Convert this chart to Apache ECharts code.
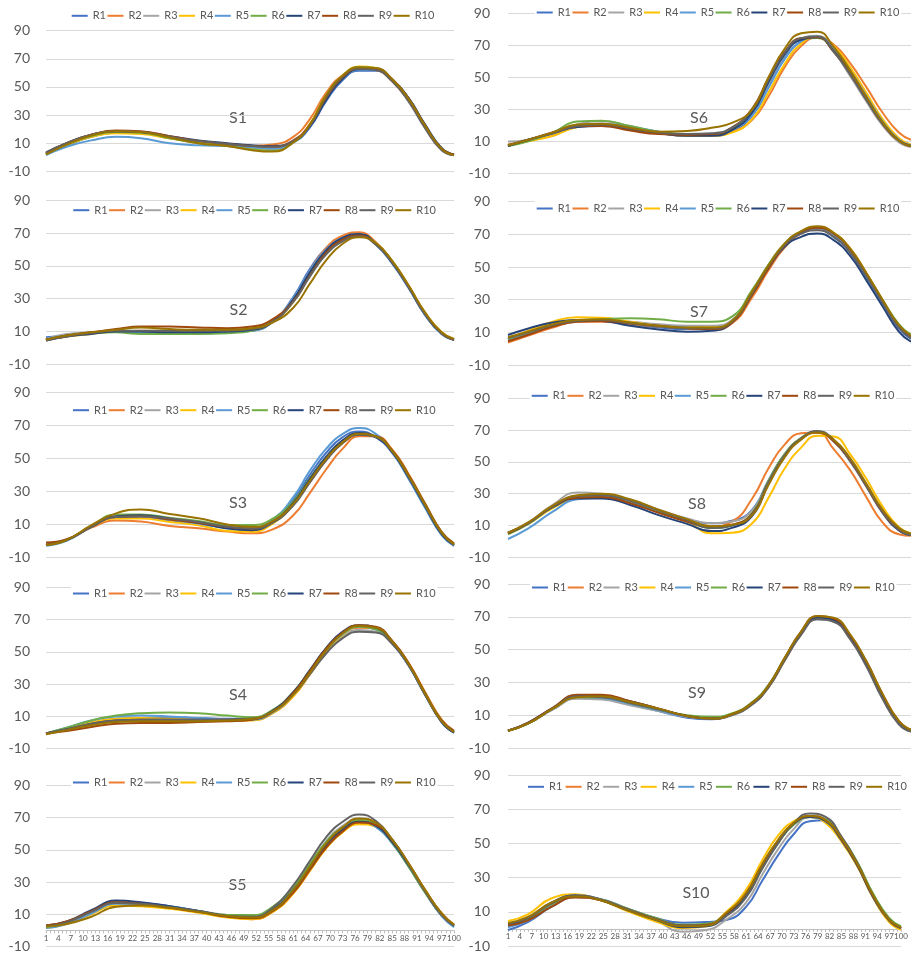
<!DOCTYPE html>
<html>
<head>
<meta charset="utf-8">
<script src="https://cdn.jsdelivr.net/npm/echarts@6/dist/echarts.min.js"></script>
<style>
  html, body { margin: 0; padding: 0; background: #fff; }
  #chart { width: 911px; height: 954px; }
</style>
</head>
<body>
<div id="chart"></div>
<script>
// Categories 1..100 along the horizontal axis
const categories = [];
for (let i = 1; i <= 100; i++) categories.push(String(i));

// Category positions at which each curve was sampled
const sampleAt = [1, 6, 12, 18, 24, 31, 38, 45, 51, 56, 61, 65, 69, 73, 77, 81, 85, 89, 93, 97, 100];

const seriesNames = ['R1', 'R2', 'R3', 'R4', 'R5', 'R6', 'R7', 'R8', 'R9', 'R10'];
const panelNames = ['S1', 'S2', 'S3', 'S4', 'S5', 'S6', 'S7', 'S8', 'S9', 'S10'];
const yTicks = [-10, 10, 30, 50, 70, 90];

// One row per run (R1..R10), values at the sampleAt categories
const S1 = [
  [2, 8.5, 14.5, 17.5, 17, 14, 11, 9, 7.5, 6.5, 10.5, 21, 40, 55, 61.5, 61.5, 55, 42, 23, 6.5, 1.5],
  [2.5, 9, 15, 17.5, 17, 13.5, 10.5, 8.5, 8, 9, 14.5, 27, 46, 58.5, 63, 62, 54, 40.5, 21.5, 6, 2],
  [2, 9, 15, 18, 17.5, 14, 11, 9, 7, 6.5, 11.5, 23, 43, 57, 63, 62.5, 55, 41, 22, 5.5, 1.5],
  [2, 8.5, 14.5, 17, 16.5, 13.5, 10.5, 8.5, 6.5, 5.5, 11, 23.5, 44, 58, 64.5, 63.5, 55.5, 41.5, 22, 6, 1.5],
  [1.5, 7.5, 12, 14.5, 13.5, 10, 8.5, 8, 7, 6, 11, 22.5, 42, 56, 62, 62, 55, 41.5, 23, 6.5, 2],
  [2, 9, 15, 18, 17.5, 13.5, 10, 8, 5.5, 4.5, 10.5, 23, 44, 58, 64, 63.5, 55.5, 41, 22, 6, 1.5],
  [3.5, 10, 16, 18.5, 18, 15, 12, 10, 8.5, 8, 11.5, 22, 41, 56, 62.5, 62.5, 55.5, 42, 23, 6.5, 2],
  [3, 10, 16, 19, 18.5, 15, 11.5, 9.5, 8, 7.5, 12, 23, 42.5, 57, 63, 63, 55.5, 41.5, 22.5, 6, 2],
  [3, 10, 16, 18.5, 18, 14.5, 11.5, 9.5, 8, 7.5, 11.5, 22.5, 43, 57.5, 63, 62, 54, 39.5, 20.5, 5, 1.5],
  [2, 9, 15.5, 18.5, 18, 14, 10, 8, 5, 4, 10.5, 23, 44, 58, 64, 63.5, 55.5, 41.5, 22.5, 6, 1.5]
];
const S2 = [
  [6.5, 7.5, 9, 10.5, 10, 9.5, 9.5, 9.5, 10.5, 16, 31, 48, 61, 67.5, 69, 63, 51.5, 36.5, 20, 8.5, 5],
  [5, 7, 9, 10.5, 10, 10, 10, 10.5, 12, 17, 30, 47, 61, 68.5, 70.5, 64.5, 52.5, 37, 20.5, 9, 5],
  [5.5, 8.5, 9.5, 10, 10, 10.5, 11, 11, 12, 16.5, 28.5, 44.5, 58, 66, 69, 63.5, 52, 37, 20.5, 9, 5],
  [5, 7, 8.5, 10, 10.5, 10.5, 10.5, 10.5, 11.5, 16, 28, 44, 58, 66, 69, 64, 53, 38, 21.5, 9.5, 5.5],
  [5.5, 7.5, 9, 10, 9.5, 9, 9, 9.5, 10.5, 16, 30.5, 47, 60, 67, 69, 63, 51.5, 36.5, 20, 8.5, 5],
  [5, 7.5, 9, 9.5, 8.5, 8.5, 8.5, 9, 10.5, 16, 29, 45, 58.5, 66.5, 69, 64, 53, 37.5, 21, 9, 5],
  [4.5, 7, 8.5, 10, 10, 9.5, 9.5, 10, 11, 16, 29.5, 46, 59.5, 67, 69.5, 63.5, 52, 37, 20.5, 9, 5],
  [5, 7.5, 9.5, 11.5, 13, 13, 12.5, 12, 13, 17.5, 28.5, 44, 58, 66, 68.5, 63.5, 52.5, 37.5, 21, 9, 5],
  [4.5, 7, 9, 10.5, 10.5, 10.5, 10.5, 10.5, 11.5, 16, 28, 43.5, 57, 65, 68, 63, 52, 37, 20.5, 9, 5],
  [5, 7.5, 9.5, 11, 12.5, 11.5, 11, 11, 12, 15.5, 24.5, 39, 53.5, 63.5, 67.5, 64, 53, 38, 21.5, 9.5, 5.5]
];
const S3 = [
  [-2.5, 0.5, 8.5, 14.5, 14.5, 12.5, 10.5, 8, 7.5, 12.5, 25, 40, 53.5, 63, 66.5, 63, 53.5, 38, 20.5, 4, -3],
  [-2, 0.5, 8, 12.3, 11.7, 9, 7.6, 5.6, 4.6, 7, 15.5, 29, 43.5, 56, 63.5, 63.5, 55.5, 40.5, 22.5, 5, -2],
  [-2.5, 0.5, 8.5, 14.5, 15, 13, 11, 8.5, 8, 12.5, 23.5, 37.5, 51, 61, 65.5, 63.5, 54.5, 39, 21.5, 4.5, -2.5],
  [-2.5, 0.5, 8.5, 13.5, 13.5, 11.5, 9.5, 6, 5.5, 10.5, 22, 36, 49.5, 60, 65, 63.5, 55, 39.5, 22, 5, -2],
  [-3, 0, 8.5, 14.5, 15, 13, 10.5, 8, 7.5, 13, 26.5, 42.5, 56, 65, 68.5, 65, 54, 37.5, 20, 3.5, -3],
  [-2.5, 0.5, 9, 16, 16, 14, 12, 9.5, 9.6, 13.5, 24, 38, 51, 60.5, 65, 63.5, 54.5, 39, 21.5, 4.5, -2.5],
  [-2.5, 0.5, 8.5, 15, 15.5, 13.5, 11, 7.5, 6.5, 11.5, 23, 37.5, 51, 61, 65.5, 63, 54, 38.5, 21, 4, -2.5],
  [-1, 1, 8.5, 14.5, 15, 13, 11, 8.5, 7.5, 11.5, 22, 35.5, 49, 59.5, 64.5, 63.5, 55, 40, 22.5, 5.5, -1.5],
  [-2.5, 0.5, 8.5, 14.5, 15, 13.5, 11.5, 8.5, 7.5, 11, 21.5, 35.5, 49, 59.5, 64.5, 63, 54.5, 39, 21.5, 4.5, -2.5],
  [-2.5, 0.5, 9.5, 16.7, 19, 16.3, 13.7, 10, 8.5, 12, 22.5, 36.5, 50, 60, 65, 63.5, 54.5, 39.5, 22, 5, -2]
];
const S4 = [
  [-0.5, 2.5, 6, 8.5, 9, 9, 9, 8.5, 8.5, 13, 24, 37.5, 51.5, 61.5, 65.5, 64, 55.5, 41.5, 23.5, 6.5, 0],
  [-1, 2, 5.5, 7.5, 8, 8.5, 8.5, 8, 8, 12, 22.5, 36, 50, 60.5, 65, 64.5, 56.5, 43, 25, 8, 1],
  [-0.5, 2, 6, 8, 8.5, 8.5, 8, 7.5, 8, 12.5, 23.5, 36.5, 50, 59.5, 63.5, 62.5, 55, 41.5, 23.5, 7, 0.5],
  [-0.5, 2.5, 6.5, 8.5, 9, 8.5, 8, 7.5, 7.5, 12, 22.5, 36, 50, 60.5, 65.5, 64.5, 56.5, 42.5, 24.5, 7.5, 0.5],
  [-0.5, 3, 7.5, 10, 10.5, 10, 9, 8, 8, 12.5, 23.5, 37, 51, 61, 65.5, 64, 55.5, 41.5, 23.5, 7, 0],
  [-0.5, 3, 7.5, 10.5, 12, 12.5, 12, 10.5, 9.5, 14, 25, 38.5, 52, 61.5, 65.5, 64, 56, 42, 24, 7, 0.5],
  [-0.5, 2, 5.5, 7.5, 8, 8, 8, 8, 8.5, 13.5, 25, 38.5, 52.5, 62.5, 66.5, 65, 56.5, 42, 23.5, 6.5, 0],
  [-0.5, 1, 3.5, 5.5, 6, 6, 6.5, 7, 8, 13, 24.5, 38, 52, 62, 66.5, 65.5, 57, 43, 24.5, 7.5, 1],
  [-0.5, 2, 5.5, 7.5, 8, 8, 8, 8, 8.5, 13, 23.5, 36, 49, 58.5, 62.5, 62, 55, 41.5, 23.5, 7, 0.5],
  [-1, 1.5, 4.5, 6.5, 7, 7, 7, 7.5, 8.5, 13, 23.5, 37, 51, 61.5, 66, 65, 56.5, 42.5, 24, 7, 0.5]
];
const S5 = [
  [2, 4.5, 11.5, 17.5, 17, 15, 12, 9, 8, 13, 25, 39.5, 53.5, 63, 67.5, 64.5, 54.5, 40, 24, 9, 2.5],
  [2.5, 5, 12, 17, 16, 14, 11.5, 8.5, 7, 11.5, 23, 37, 51.5, 61.5, 66.5, 65, 55.5, 41, 25, 10.5, 3.5],
  [2, 4.5, 11, 17, 16.5, 14.5, 12, 9.5, 8.5, 13.5, 26.5, 41, 55.5, 65, 69.5, 66.5, 56, 41, 24.5, 9.5, 3],
  [1.5, 4, 10, 15.5, 15, 13.5, 11, 8, 7, 11.5, 23, 37, 51, 61, 66, 64.5, 55, 41, 25, 10.5, 3.5],
  [1.5, 4, 10.5, 16.5, 16.5, 15, 12, 9, 8, 13, 25.5, 39.5, 53.5, 63, 67.5, 64.5, 54, 39.5, 23.5, 9, 2],
  [2, 5, 12, 17.5, 16.5, 14.5, 12, 9.5, 9.5, 14.7, 27, 41, 55, 64, 68.5, 65.5, 54.5, 39.5, 23.5, 9.5, 3],
  [3, 5.5, 12.5, 18.5, 17.5, 15, 12, 9, 8, 13, 25, 39, 53, 62.5, 67.5, 65, 55, 40.5, 24.5, 10, 3],
  [3, 5.5, 12, 17.5, 16.5, 14, 11.5, 8.5, 7.5, 12, 23.5, 37.5, 51.5, 61.5, 67, 65.5, 56, 41.5, 25, 10.5, 3.5],
  [2.5, 5, 11.5, 17, 16.5, 14.5, 12, 9, 8.5, 14, 28, 43, 58, 67.5, 72, 68, 56.5, 41, 24, 9.5, 3],
  [2.5, 4, 8.5, 14.7, 15.5, 14, 11.5, 9, 8, 12.5, 25, 39.5, 54, 64, 69.5, 67, 56.5, 41.5, 25, 10.5, 3.5]
];
const S6 = [
  [7, 11, 15, 19.5, 20.5, 18.5, 15.5, 13.5, 13.5, 16.5, 26, 44, 62, 72.5, 75.5, 67, 53.5, 37.5, 22, 11, 7.5],
  [8, 10.5, 13.5, 19, 20, 17.5, 15.5, 14, 14, 16, 23.5, 38, 56.5, 69.5, 75, 70.5, 59, 44, 28, 15.5, 11],
  [9.8, 11, 15, 20.5, 22.5, 19.5, 16, 14, 14, 17, 27.5, 46, 64, 74, 76, 66, 51, 35, 20, 9.5, 6.5],
  [7.5, 10, 13.5, 19, 20.5, 18.5, 15.5, 13.5, 13.5, 15.5, 24, 40.5, 58.5, 71, 75.5, 69.5, 56.5, 40.5, 24, 12, 8],
  [7, 11, 15, 20, 21, 19, 16, 14, 14, 17, 26.5, 43.5, 61.5, 72.5, 75.5, 68, 54.5, 38.5, 22.5, 11, 7.5],
  [7, 10, 15.5, 22.3, 22.9, 19.5, 16, 14.5, 14.5, 18, 29, 48, 65, 74, 74.5, 66.5, 53, 37, 21.5, 10.5, 7],
  [7, 11, 15, 19, 19.5, 17.5, 15, 13.5, 13.5, 17, 28, 47, 64.5, 73.5, 75, 66.5, 53, 37, 21.5, 10.5, 7],
  [7.5, 11, 15.5, 19.5, 19.5, 16.7, 14.5, 14, 14.5, 18.5, 30.5, 49.5, 66, 74.5, 75, 66, 52.5, 36.5, 21, 10.5, 7],
  [7.5, 11, 15, 19.5, 20.5, 18, 15.5, 14.5, 15, 18.5, 30, 48.5, 65.5, 74.5, 75.5, 66, 52, 36, 21, 10.5, 7],
  [7.5, 11, 15.5, 20.5, 21, 18.5, 16, 16.5, 18.5, 21.5, 30, 50, 68, 77.5, 78.5, 69, 54.5, 38, 22, 10.5, 7]
];
const S7 = [
  [6, 10, 14.5, 17, 17, 15, 13, 12, 12, 16.5, 34, 50, 63.5, 70.5, 73, 68.5, 59, 44, 28, 12.5, 6],
  [3.7, 8, 13, 16.5, 16.5, 15, 13.5, 12.5, 12, 15.5, 31.5, 48, 62, 70.5, 73.5, 69.5, 60, 45, 29, 13.5, 7],
  [5.5, 9.5, 14, 17, 17.5, 16.5, 15, 14, 14, 17.5, 34.5, 50.5, 63.5, 70.5, 73, 69, 59.5, 45, 29, 13.5, 7],
  [6, 11, 16.5, 19.2, 19, 16.5, 14, 13, 13, 17, 35, 51, 64.5, 71.5, 74.5, 71, 61.5, 46.5, 30, 14.5, 7.5],
  [5, 9.5, 14.5, 17.5, 17.5, 16, 14, 13, 12.5, 17, 35, 51, 64, 71, 74, 70, 60.5, 45.5, 29, 13.5, 7],
  [6, 10, 14.5, 17, 18, 18.6, 18, 16.5, 16.5, 19.6, 36, 51.5, 64.5, 71.5, 74.5, 70.5, 61, 46, 30, 15, 8.5],
  [8.4, 12.4, 16, 17.5, 17, 14, 11.8, 10.4, 11, 16, 33.5, 49.5, 62.5, 68.5, 70.5, 66.5, 57, 42, 26, 10.5, 4.3],
  [4.5, 8.5, 13.5, 16.5, 17, 15.5, 14, 12.5, 12, 16, 33, 49.5, 63.5, 71, 74, 70.5, 61, 46, 29.5, 14, 7.5],
  [6.5, 10, 14.5, 17, 17.5, 15.5, 13.5, 12.5, 12.5, 16.5, 34, 50.5, 63.5, 70.5, 72.5, 68.5, 59, 44.5, 28.5, 13, 6.5],
  [7, 10.5, 15, 17.5, 18, 16, 14, 13, 13, 17, 35, 51, 64.5, 72, 75, 71, 61.5, 46.5, 30, 14.5, 8]
];
const S8 = [
  [5, 11.5, 22, 28, 29, 25.5, 19.5, 14, 11.4, 13, 20, 38.5, 55, 65, 69, 63, 50.5, 34.5, 18, 7, 4],
  [5, 11.5, 22, 28, 28.5, 24.5, 18.5, 12.5, 9.5, 12.4, 27, 46, 61, 68, 68.5, 58, 45, 28, 12, 4.5, 3.5],
  [5.5, 12, 23, 30.7, 30, 26, 20, 14.5, 11.4, 12.5, 19.5, 38, 55, 65, 69, 63, 51, 35, 18.5, 7.5, 4.5],
  [5, 11, 21, 27, 28, 25, 19, 12.5, 5.1, 5.5, 11.4, 27.5, 46, 59, 66.5, 66, 55, 39.5, 22, 9, 5],
  [1.5, 8.2, 18.7, 26.5, 27.5, 24.5, 18.5, 12.5, 8.5, 10, 17, 37, 54, 64.5, 69, 63.5, 51.5, 35.5, 19, 7.5, 4],
  [4.5, 11, 22, 28, 29, 25.5, 19, 13, 8.5, 10, 18, 38, 55, 65, 69, 63.5, 51.5, 35.5, 19, 8, 4.5],
  [5, 11.5, 21.5, 27, 27, 22.9, 16.5, 11, 6.5, 8.5, 16, 36.5, 54, 64.5, 69, 63.5, 51.5, 35.5, 18.5, 7, 4],
  [5, 11.5, 22, 27.5, 28, 24, 18, 12.5, 9, 10.5, 17.5, 37, 54, 64.5, 68.5, 63, 51, 35, 18.5, 7.5, 4],
  [5.5, 11.5, 22, 28.5, 29, 25.5, 19.5, 13.5, 8.5, 10, 17, 37, 54, 64.5, 69.5, 64, 51.5, 35.5, 19, 7.5, 4],
  [5.5, 12, 22.5, 29, 30, 26.5, 20, 14, 9.5, 10.5, 16.5, 35.5, 53, 64, 68.5, 64, 52.5, 36.5, 20, 8.5, 5]
];
const S9 = [
  [0.5, 5, 13.5, 20.5, 20, 16.5, 12.5, 8.5, 7.5, 10.5, 17.5, 28, 44.5, 60, 69, 67.5, 57.5, 41.5, 21.5, 5.5, 0.5],
  [0.5, 5, 14, 21, 20.5, 17, 13, 9, 8, 10.5, 17, 27, 43.5, 59.5, 69.5, 68, 58, 42, 22, 6, 0.5],
  [0.5, 5, 13.5, 20, 19.5, 16, 12.5, 9, 8, 10.5, 17, 27.5, 44, 59.5, 68.5, 67, 57, 40.5, 20.5, 5, 0],
  [0.5, 5, 14, 21, 21, 17.5, 13.5, 9.5, 8.5, 11, 17.5, 28, 44.5, 60, 69.5, 68.5, 58.5, 42.5, 22.5, 6.5, 1],
  [0.5, 5.5, 14, 21, 20.5, 17, 13, 9, 8, 10.5, 17.5, 28, 44.5, 60, 69, 67.5, 57.5, 41.5, 21.5, 5.5, 0.5],
  [0.5, 5, 14, 21, 21, 17.5, 13.5, 10, 9, 11, 18, 28.5, 45, 60.5, 69.5, 68, 58, 42, 22, 6, 0.5],
  [0.5, 5.5, 14.5, 22, 22, 18.5, 14, 9.5, 8, 10.5, 17, 27.5, 44, 60, 69.5, 68, 58, 42, 22, 6, 0.5],
  [0.5, 5.5, 14.5, 22.5, 22.5, 18.5, 14, 9.5, 8, 10.5, 17.5, 28, 45, 61, 70.5, 69, 59, 43, 23, 6.5, 1],
  [0.5, 5, 14, 21.5, 21, 17.5, 13.5, 9.5, 8, 10, 16.5, 27, 43.5, 59, 68.5, 67, 56.5, 40, 20, 4.5, 0],
  [0.5, 5, 14, 21, 21.5, 18, 14, 9.5, 8, 10.5, 17.5, 28, 45, 61, 70.5, 69.5, 59.5, 43, 23, 6.5, 1]
];
const S10 = [
  [-0.6, 4, 13, 18.5, 17.5, 12, 6.5, 3.6, 4, 5.2, 13, 28, 43, 55.5, 63, 63.5, 53.5, 38.5, 19.5, 5.5, 0.5],
  [2, 5.5, 14, 18.5, 17, 11, 5.5, 1.5, 2, 9, 20.5, 37, 51, 61.5, 65.5, 63, 52, 37, 18.5, 5, 0.5],
  [2, 5, 13.5, 19, 17.5, 11.5, 5.5, -1.6, -0.6, 5.5, 15.5, 31.5, 46.5, 58.5, 65.5, 64.5, 53, 37.5, 18.5, 5, 0],
  [4.6, 8.5, 17.9, 20.2, 17, 10.5, 4.5, 0.5, 1.5, 10, 23, 40, 54.5, 63, 65.5, 62, 51, 36.5, 18, 4, -0.5],
  [1, 5, 14.5, 19.5, 17.5, 11.5, 5.5, 1.5, 2.5, 8.5, 19.5, 36, 50.5, 61.5, 65.5, 63, 52, 37, 18.5, 5, 0.5],
  [2.5, 6, 14.5, 19, 17.5, 12, 6.5, 2.5, 3, 9, 19.5, 35.5, 50, 61, 65.5, 64, 53.5, 39, 20.5, 6.5, 1.5],
  [2.5, 6.5, 15.5, 19.5, 17, 11, 5.5, 1, 1.5, 8, 19.5, 36, 50.5, 61.5, 65.5, 63, 52, 37, 18.5, 5, 0.5],
  [2, 5, 13, 18.5, 17, 11.5, 6, 2, 2.5, 9, 21, 37.5, 51.5, 62, 66, 63.5, 52.5, 37.5, 19, 5, 0.5],
  [3, 6.5, 15, 19.5, 17.5, 11.5, 6, 2, 2, 7.5, 18.5, 35, 50, 62, 67.5, 65.5, 54, 38.5, 19.5, 5.5, 0.5],
  [3.5, 7, 15.5, 19, 17, 11, 5.5, 1.5, 2, 9.5, 21, 37.5, 52, 62, 66, 63.5, 53, 38, 19.5, 5.5, 1]
];

const panelData = [S1, S2, S3, S4, S5, S6, S7, S8, S9, S10];

// Office-style series colours
const palette = ['#4472C4', '#ED7D31', '#A5A5A5', '#FFC000', '#5B9BD5',
                 '#70AD47', '#264478', '#9E480E', '#636363', '#997300'];

const FONT = 'Lato, "Open Sans", sans-serif';
const TEXT = '#595959';

// Panel boxes: plot left/right/top/height, legend origin and gap, panel tag position, x-axis shown
const panelBoxes = [
  { left: 46,  right: 457, top: 30.7,  height: 140.6, lx: 71.7,  ly: 17.3,  gap: 1.5, tx: 238,   ty: 118,   xAxis: false },
  { left: 46,  right: 457, top: 200.3, height: 164,   lx: 73.3,  ly: 211.7, gap: 1.5, tx: 238.5, ty: 310,   xAxis: false },
  { left: 46,  right: 457, top: 392.7, height: 164.6, lx: 73,    ly: 411.7, gap: 1.5, tx: 238,   ty: 503,   xAxis: false },
  { left: 46,  right: 457, top: 587.3, height: 161.4, lx: 73,    ly: 595,   gap: 1.5, tx: 238,   ty: 695,   xAxis: false },
  { left: 46,  right: 457, top: 785.5, height: 161,   lx: 73,    ly: 784,   gap: 1.5, tx: 237.5, ty: 885,   xAxis: true },
  { left: 508, right: -3,  top: 13.3,  height: 160,   lx: 536.7, ly: 14,    gap: 1.5, tx: 699,   ty: 118,   xAxis: false },
  { left: 508, right: -3,  top: 201.7, height: 163.3, lx: 536.7, ly: 210,   gap: 1.5, tx: 699,   ty: 311.7, xAxis: false },
  { left: 508, right: -3,  top: 398.3, height: 159,   lx: 531.7, ly: 397.3, gap: 1.5, tx: 697,   ty: 504,   xAxis: false },
  { left: 508, right: -3,  top: 584,   height: 164,   lx: 532,   ly: 589,   gap: 1.5, tx: 697,   ty: 693,   xAxis: false },
  { left: 508, right: -3,  top: 775,   height: 171,   lx: 528,   ly: 788.3, gap: 3.3, tx: 696,   ty: 892.7, xAxis: true }
];

const Y_MIN = -10, Y_MAX = 90;
const grids = [], xAxes = [], yAxes = [], legends = [], series = [], graphics = [];

panelBoxes.forEach((b, p) => {
  grids.push({ left: b.left, right: b.right, top: b.top, height: b.height, containLabel: false });

  // horizontal axis sits on the zero line of the value axis
  const zeroShift = -b.height * (0 - Y_MIN) / (Y_MAX - Y_MIN);
  xAxes.push({
    type: 'category', gridIndex: p, data: categories, boundaryGap: false,
    position: 'bottom', offset: zeroShift,
    axisLine: { show: b.xAxis, onZero: false, lineStyle: { color: '#BFBFBF', width: 1 } },
    axisTick: { show: b.xAxis, interval: 0, length: 3, lineStyle: { color: '#BFBFBF' } },
    axisLabel: { show: b.xAxis, interval: 2, fontSize: 8, color: TEXT, margin: 4, fontFamily: FONT },
    splitLine: { show: false }
  });

  yAxes.push({
    type: 'value', gridIndex: p, min: Y_MIN, max: Y_MAX, interval: 20,
    axisLine: { show: false },
    axisTick: { show: false, customValues: yTicks },
    axisLabel: {
      fontSize: 14, color: TEXT, fontFamily: FONT, margin: p < 5 ? 16 : 18,
      customValues: yTicks
    },
    splitLine: { lineStyle: { color: '#D9D9D9', width: 1 } }
  });

  legends.push({
    data: seriesNames, left: b.lx - 2, top: b.ly - 9, width: 440, orient: 'horizontal',
    icon: 'rect', itemWidth: 16, itemHeight: 2, itemGap: b.gap,
    padding: [2, 2], backgroundColor: '#fff', selectedMode: false,
    textStyle: { fontSize: 11, color: TEXT, fontFamily: FONT }
  });

  graphics.push({
    type: 'text', x: b.tx, y: b.ty, silent: true,
    style: { text: panelNames[p], fill: TEXT, font: '16px ' + FONT, textAlign: 'center', textVerticalAlign: 'middle' }
  });

  panelData[p].forEach((vals, r) => {
    series.push({
      name: seriesNames[r], type: 'line', xAxisIndex: p, yAxisIndex: p,
      data: sampleAt.map((c, i) => [c - 1, vals[i]]),
      smooth: 0.5, symbol: 'none', silent: true,
      lineStyle: { width: 2, color: palette[r] },
      itemStyle: { color: palette[r] }
    });
  });
});

const chart = echarts.init(document.getElementById('chart'), null, { renderer: 'canvas' });
chart.setOption({
  backgroundColor: '#fff',
  animation: false,
  color: palette,
  grid: grids,
  xAxis: xAxes,
  yAxis: yAxes,
  legend: legends,
  series: series,
  graphic: graphics
});
</script>
</body>
</html>
